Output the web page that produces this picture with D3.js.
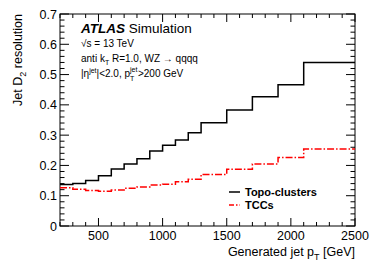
<!DOCTYPE html>
<html>
<head>
<meta charset="utf-8">
<script src="https://cdn.jsdelivr.net/npm/d3@7"></script>
<style>
    body { margin: 0; background: #fff; }
    svg text { font-family: "Liberation Sans", Arial, sans-serif; fill: #000; }
</style>
</head>
<body>
<svg id="chart"></svg>
<script>
// bin edges in GeV
const binEdges = [200, 300, 400, 500, 600, 700, 800, 900, 1000, 1100, 1200, 1300, 1500, 1700, 1900, 2100, 2500];
const topoValues = [0.137, 0.140, 0.150, 0.166, 0.188, 0.205, 0.222, 0.248, 0.267, 0.284, 0.308, 0.341, 0.383, 0.427, 0.466, 0.540];
const tccValues = [0.126, 0.121, 0.117, 0.115, 0.119, 0.125, 0.129, 0.135, 0.138, 0.146, 0.154, 0.170, 0.187, 0.205, 0.226, 0.254];
const xTicks = [500, 1000, 1500, 2000, 2500];
const yTicks = [0, 0.1, 0.2, 0.3, 0.4, 0.5, 0.6, 0.7];

const margin = { top: 14, right: 19, bottom: 44, left: 60 };
const width = 374 - margin.left - margin.right;
const height = 270 - margin.top - margin.bottom;

const svg = d3.select("#chart")
    .attr("width", 374)
    .attr("height", 270);

const g = svg.append("g")
    .attr("transform", `translate(${margin.left}, ${margin.top})`);

const x = d3.scaleLinear().domain([200, 2500]).range([0, width]);
const y = d3.scaleLinear().domain([0, 0.7]).range([height, 0]);

// ROOT style frame with inward ticks on all sides
function drawTicks() {
    const minorX = d3.range(200, 2501, 100);
    const minorY = d3.range(0, 0.7001, 0.02);
    minorX.forEach(v => {
        const len = v % 500 === 0 ? 8 : 4;
        g.append("line").attr("x1", x(v)).attr("x2", x(v)).attr("y1", height).attr("y2", height - len).attr("stroke", "#000");
        g.append("line").attr("x1", x(v)).attr("x2", x(v)).attr("y1", 0).attr("y2", len).attr("stroke", "#000");
    });
    minorY.forEach(v => {
        const major = Math.abs(v * 10 - Math.round(v * 10)) < 1e-6;
        const len = major ? 9 : 4.5;
        g.append("line").attr("x1", 0).attr("x2", len).attr("y1", y(v)).attr("y2", y(v)).attr("stroke", "#000");
        g.append("line").attr("x1", width).attr("x2", width - len).attr("y1", y(v)).attr("y2", y(v)).attr("stroke", "#000");
    });
    g.append("rect")
        .attr("width", width).attr("height", height)
        .attr("fill", "none").attr("stroke", "#000").attr("stroke-width", 1);
}
drawTicks();

// tick labels
g.selectAll(".xlab").data(xTicks).enter().append("text")
    .attr("x", d => x(d)).attr("y", height + 13.5)
    .attr("text-anchor", "middle").attr("font-size", 12.5)
    .text(d => d);
g.selectAll(".ylab").data(yTicks).enter().append("text")
    .attr("x", -3).attr("y", d => y(d) + 4.5)
    .attr("text-anchor", "end").attr("font-size", 12.5)
    .text(d => d === 0 ? "0" : d.toFixed(1));

// step histograms
function stepPoints(values) {
    const pts = [];
    values.forEach((v, i) => {
        pts.push([binEdges[i], v]);
        pts.push([binEdges[i + 1], v]);
    });
    return pts;
}
const line = d3.line().x(d => x(d[0])).y(d => y(d[1]));

g.append("path")
    .attr("d", line(stepPoints(topoValues)))
    .attr("fill", "none").attr("stroke", "#000").attr("stroke-width", 1.5);
g.append("path")
    .attr("d", line(stepPoints(tccValues)))
    .attr("fill", "none").attr("stroke", "#ff0000").attr("stroke-width", 1.5)
    .attr("stroke-dasharray", "7,2,1.5,2");

// legend
const legend = g.append("g").attr("transform", `translate(${229 - margin.left}, ${192 - margin.top})`);
legend.append("line").attr("x1", 0).attr("x2", 11).attr("y1", 0).attr("y2", 0)
    .attr("stroke", "#000").attr("stroke-width", 1.5);
legend.append("text").attr("x", 16).attr("y", 4).attr("font-size", 11).attr("font-weight", "bold").text("Topo-clusters");
legend.append("line").attr("x1", 0).attr("x2", 11).attr("y1", 13).attr("y2", 13)
    .attr("stroke", "#ff0000").attr("stroke-width", 1.5).attr("stroke-dasharray", "5,2,1.5,2");
legend.append("text").attr("x", 16).attr("y", 17).attr("font-size", 11).attr("font-weight", "bold").text("TCCs");

// ATLAS label
const lab = svg.append("g").attr("transform", "translate(81, 0)");
const atlas = lab.append("text").attr("x", 0).attr("y", 32.5).attr("font-size", 13.5);
atlas.append("tspan").attr("font-weight", "bold").attr("font-style", "italic").text("ATLAS");
atlas.append("tspan").text(" Simulation");

lab.append("text").attr("x", 0).attr("y", 47).attr("font-size", 10).text("\u221As = 13 TeV");

const l2 = lab.append("text").attr("x", 0).attr("y", 62).attr("font-size", 10);
l2.append("tspan").text("anti k");
l2.append("tspan").attr("font-size", 7).attr("dy", 2.5).text("T");
l2.append("tspan").attr("dy", -2.5).text(" R=1.0, WZ \u2192 qqqq");

// |eta^jet|<2.0, pT^jet>200 GeV, pieces placed one after another
function piece(str, px, py, size) {
    const t = lab.append("text").attr("x", px).attr("y", py).attr("font-size", size).text(str);
    return px + t.node().getComputedTextLength();
}
let cx = 0;
cx = piece("|\u03b7", cx, 77, 10);
cx = piece("jet", cx, 72.5, 7);
cx = piece("|<2.0, p", cx, 77, 10);
const supStart = cx;
const supEnd = piece("jet", supStart, 72, 7);
piece("T", supStart, 80.5, 7);
piece(">200 GeV", supEnd + 0.5, 77, 10);

// axis titles
const xt = svg.append("text")
    .attr("x", margin.left + width).attr("y", 256)
    .attr("text-anchor", "end").attr("font-size", 12.5);
xt.append("tspan").text("Generated jet p");
xt.append("tspan").attr("font-size", 9).attr("dy", 4).text("T");
xt.append("tspan").attr("dy", -4).text(" [GeV]");

const yt = svg.append("text")
    .attr("transform", `translate(22, ${margin.top}) rotate(-90)`)
    .attr("text-anchor", "end").attr("font-size", 12.5);
yt.append("tspan").text("Jet D");
yt.append("tspan").attr("font-size", 9).attr("dy", 4).text("2");
yt.append("tspan").attr("dy", -4).text(" resolution");
</script>
</body>
</html>
